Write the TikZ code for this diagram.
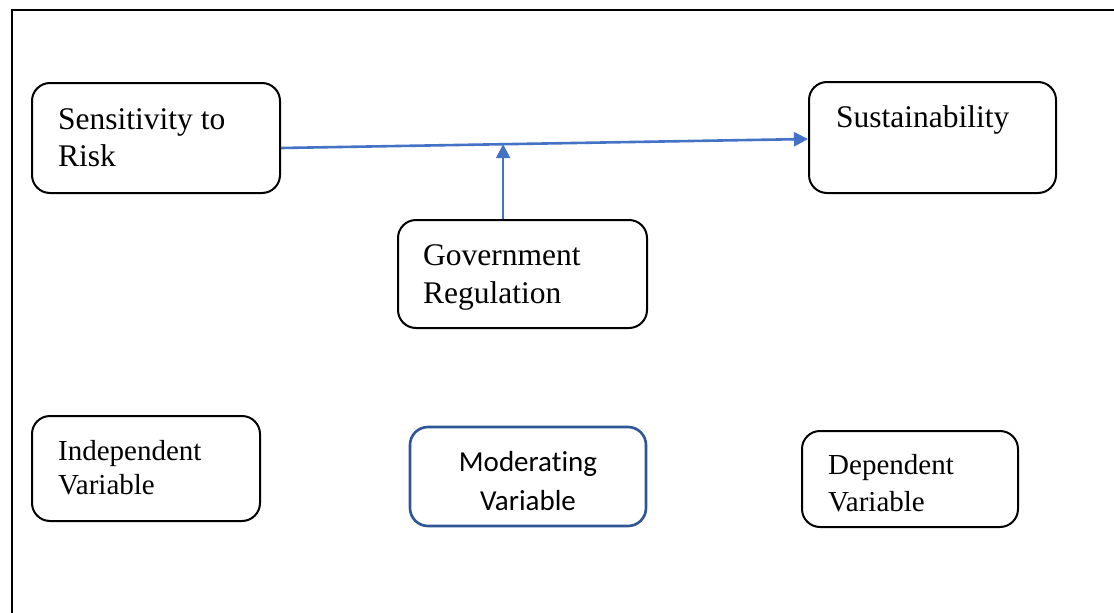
\documentclass[tikz,border=0pt]{standalone}
\usepackage{fontspec}
\setmainfont{Liberation Serif}
\newfontfamily\calib[Ligatures=NoCommon]{Carlito}
\usetikzlibrary{arrows.meta,calc}
\definecolor{arrowblue}{HTML}{4472C4}
\definecolor{modblue}{HTML}{2F5597}
\tikzset{
  box/.style={draw=black,line width=2pt,rounded corners=18pt,inner sep=0pt},
  modbox/.style={draw=modblue,line width=2.6pt,rounded corners=18pt,inner sep=0pt},
  bigtxt/.style={anchor=base west,inner sep=0pt,font=\fontsize{31.5}{37}\selectfont},
  smalltxt/.style={anchor=base west,inner sep=0pt,font=\fontsize{29}{35}\selectfont},
  modtxt/.style={anchor=base,inner sep=0pt,font=\calib\fontsize{29}{35}\selectfont},
  conn/.style={draw=arrowblue,line width=2.6pt,-{Triangle[length=14pt,width=14pt]}}
}
\begin{document}
\begin{tikzpicture}[x=1pt,y=-1pt]
\useasboundingbox (0,0) rectangle (1114,613);
\fill[white] (0,0) rectangle (1114,613);
% outer frame (cut off at right and bottom)
\draw[line width=2pt] (12,613) -- (12,10) -- (1114,10);
% boxes
\node[box,minimum width=248pt,minimum height=110pt] (sens) at (156,138) {};
\node[box,minimum width=247pt,minimum height=111pt] (sust) at (932.5,137.5) {};
\node[box,minimum width=249pt,minimum height=108pt] (gov) at (522.5,274) {};
\node[box,minimum width=228pt,minimum height=105pt] (ind) at (146,468.5) {};
\node[modbox,minimum width=236pt,minimum height=99pt] (mod) at (528,476.5) {};
\node[box,minimum width=216pt,minimum height=96pt] (dep) at (910,479) {};
% texts
\node[bigtxt] (t1) at (58,129) {Sensitivity to};
\node[bigtxt] (t2) at (58,166.5) {Risk};
\node[bigtxt] (t3) at (836,127.5) {Sustainability};
\node[bigtxt] (t4) at (423,265) {Government};
\node[bigtxt] (t5) at (423,303) {Regulation};
\node[smalltxt] (t6) at (58,460) {Independent};
\node[smalltxt] (t7) at (58,494) {Variable};
\node[modtxt] (t8) at (528,471) {Moderating};
\node[modtxt] (t9) at (528,510) {Variable};
\node[smalltxt] (t10) at (828,474) {Dependent};
\node[smalltxt] (t11) at (828,511) {Variable};
% connectors
\coordinate (hs) at ($(sens.east)+(0,10)$);
\coordinate (he) at ($(sust.west)+(0,1.5)$);
\path (hs) -- (he) coordinate[pos=0.4215] (m);
\draw[conn] (hs) -- (he);
\draw[conn] (gov.north -| m) -- (m);
\end{tikzpicture}
\end{document}
